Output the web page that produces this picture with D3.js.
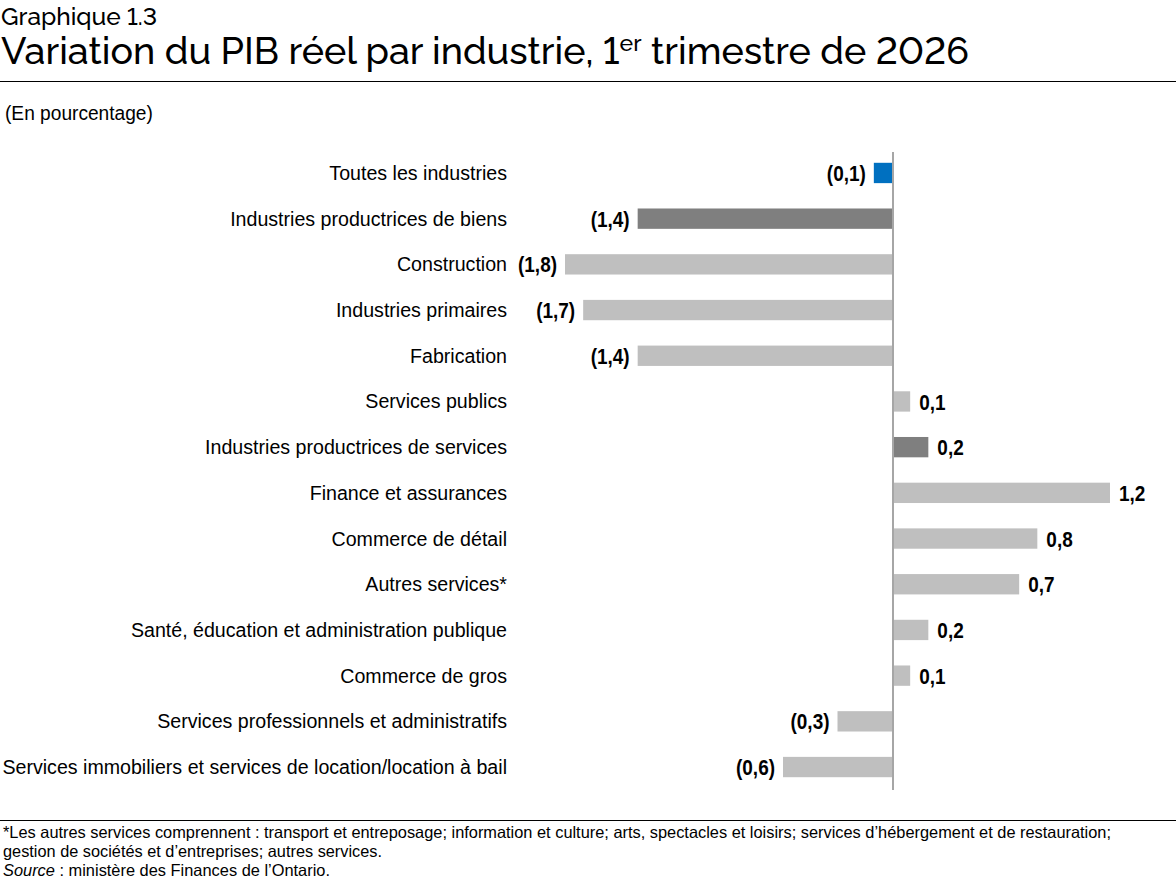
<!DOCTYPE html>
<html><head><meta charset="utf-8">
<script src="https://cdn.jsdelivr.net/npm/d3@7"></script>
<style>
body{margin:0;background:#fff;}
svg{display:block;}
.arial{font-family:"Liberation Sans",Arial,sans-serif;}
.title{font-family:"Raleway","Lato","Open Sans",sans-serif;font-variant-numeric:lining-nums;font-feature-settings:"lnum" 1;}
</style></head>
<body>
<script>
const categories = [
  "Toutes les industries",
  "Industries productrices de biens",
  "Construction",
  "Industries primaires",
  "Fabrication",
  "Services publics",
  "Industries productrices de services",
  "Finance et assurances",
  "Commerce de détail",
  "Autres services*",
  "Santé, éducation et administration publique",
  "Commerce de gros",
  "Services professionnels et administratifs",
  "Services immobiliers et services de location/location à bail"
];
const values = [-0.1, -1.4, -1.8, -1.7, -1.4, 0.1, 0.2, 1.2, 0.8, 0.7, 0.2, 0.1, -0.3, -0.6];
const kinds = ["total","group","item","item","item","item","group","item","item","item","item","item","item","item"];

const W = 1176, H = 888;
const svg = d3.select("body").append("svg").attr("width", W).attr("height", H);

const colors = {total:"#0070c0", group:"#7f7f7f", item:"#bfbfbf"};

const x = d3.scaleLinear().domain([-1.8, 1.2]).range([565, 1110]);
const y = d3.scaleBand().domain(categories).range([150, 790]).paddingInner(0.555).paddingOuter(0.28);

// horizontally condensed text helper (narrow font emulation)
function measure(str, size, weight) {
  const t = svg.append("text").attr("class","arial").attr("font-size",size).attr("font-weight",weight||"normal").text(str);
  const w = t.node().getComputedTextLength(); t.remove(); return w;
}
const labelScale = 505 / measure(categories[categories.length-1], 20);
const valScale = 39 / measure("(1,8)", 22.5, "bold");
const unitScale = 148 / measure("(En pourcentage)", 19.5);

// titles
svg.append("text").attr("class","title").attr("x",1).attr("y",25).attr("font-size",24.5).attr("font-weight",500).attr("fill","#000").text("Graphique 1.3");
const t = svg.append("text").attr("class","title").attr("x",1).attr("y",64).attr("font-size",37.5).attr("font-weight",500).attr("fill","#000");
t.append("tspan").text("Variation du PIB réel par industrie, 1");
t.append("tspan").attr("dy",-13).attr("font-size",23).text("er");
t.append("tspan").attr("dy",13).text(" trimestre de 2026");
t.attr("textLength", 968).attr("lengthAdjust","spacingAndGlyphs");
svg.append("line").attr("x1",0).attr("x2",W).attr("y1",81.5).attr("y2",81.5).attr("stroke","#000").attr("stroke-width",1);

svg.append("text").attr("class","arial").attr("transform",`translate(5,120) scale(${unitScale},1)`)
  .attr("font-size",19.5).attr("fill","#000").text("(En pourcentage)");

// bars
const g = svg.append("g");
g.selectAll("rect").data(values).join("rect")
  .attr("x", d => x(Math.min(0,d)))
  .attr("width", d => Math.abs(x(d)-x(0)))
  .attr("y", (d,i) => y(categories[i]))
  .attr("height", y.bandwidth())
  .attr("fill", (d,i) => colors[kinds[i]]);

// zero axis
svg.append("line").attr("x1",x(0)+1).attr("x2",x(0)+1).attr("y1",152).attr("y2",790).attr("stroke","#a6a6a6").attr("stroke-width",2);

// category labels
const yAxis = d3.axisLeft(y).tickSize(0).tickPadding(0);
const ya = svg.append("g").attr("transform","translate(507,0)").call(yAxis);
ya.select(".domain").remove();
ya.selectAll("text").attr("class","arial").attr("font-size",20).attr("fill","#000").attr("dy","0.35em")
  .attr("transform",`scale(${labelScale},1)`);

// value labels
const fmt = v => { const s = Math.abs(v).toFixed(1).replace(".", ","); return v < 0 ? "(" + s + ")" : s; };
g.selectAll("text.val").data(values).join("text")
  .attr("class","val arial")
  .attr("transform", (d,i) => `translate(${d < 0 ? x(d) - 8 : x(d) + 9},${y(categories[i]) + y.bandwidth()/2}) scale(${valScale},1)`)
  .attr("dy","0.36em")
  .attr("text-anchor", d => d < 0 ? "end" : "start")
  .attr("font-size",22.5).attr("font-weight","bold").attr("fill","#000")
  .text(fmt);

// footer
svg.append("line").attr("x1",0).attr("x2",W).attr("y1",820.5).attr("y2",820.5).attr("stroke","#000").attr("stroke-width",1);
const fs = 16.5;
svg.append("text").attr("class","arial").attr("x",3).attr("y",838).attr("font-size",fs)
  .attr("textLength",1108).attr("lengthAdjust","spacingAndGlyphs")
  .text("*Les autres services comprennent : transport et entreposage; information et culture; arts, spectacles et loisirs; services d’hébergement et de restauration;");
svg.append("text").attr("class","arial").attr("x",3).attr("y",857).attr("font-size",fs)
  .attr("textLength",379).attr("lengthAdjust","spacingAndGlyphs")
  .text("gestion de sociétés et d’entreprises; autres services.");
const s = svg.append("text").attr("class","arial").attr("x",3).attr("y",876).attr("font-size",fs)
  .attr("textLength",327).attr("lengthAdjust","spacingAndGlyphs");
s.append("tspan").attr("font-style","italic").text("Source");
s.append("tspan").text(" : ministère des Finances de l’Ontario.");
</script>
</body></html>
